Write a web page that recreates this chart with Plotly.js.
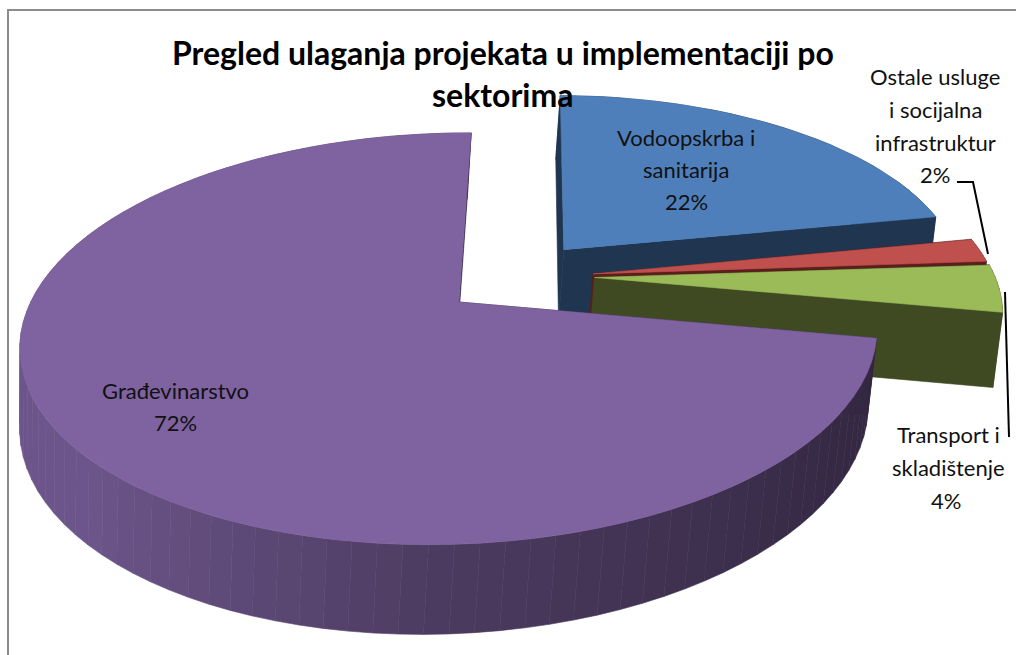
<!DOCTYPE html>
<html><head><meta charset="utf-8">
<script src="https://cdn.plot.ly/plotly-3.0.1.min.js"></script>
<style>html,body{margin:0;padding:0;background:#fff}#c{width:1016px;height:655px}</style>
</head><body><div id="c"></div>
<script>
const categories = ["Vodoopskrba i sanitarija","Ostale usluge i socijalna infrastruktur","Transport i skladištenje","Građevinarstvo"];
const values = [22,2,4,72];
const topColors = ["#4f7fbb","#c0504d","#9bbb59","#7f62a0"];
const sideColors = ["#1f3550","#5a1e1c","#3f4a22","#332640"];
// explosion of each slice in the pie's own plane
const pullX = [0.26,0.327,0.33,0];
const pullY = [0.268,0.134,0.115,0];
const titleLines = ["Pregled ulaganja projekata u implementaciji po","sektorima"];
const labelLines = [
 {t:"Vodoopskrba i",x:686,y:137},{t:"sanitarija",x:686,y:169},{t:"22%",x:686,y:201},
 {t:"Ostale usluge",x:935,y:76},{t:"i socijalna",x:935,y:109},{t:"infrastruktur",x:935,y:142},{t:"2%",x:935,y:174},
 {t:"Transport i",x:948,y:434},{t:"skladištenje",x:948,y:467},{t:"4%",x:946,y:500},
 {t:"Građevinarstvo",x:175,y:390},{t:"72%",x:175,y:422}
];
// projection of the pie disc on the page
const H = {a:432,b:85,c:459,d:-145.4,e:302,g:0.178,h:0.023,k:80,m:0.01};
const rot = 1.5*Math.PI/180;
function P(X,Y,z){
  const den = 1+H.g*Y+H.h*X+H.m*z;
  return [(H.a*X+H.b*Y+H.c)/den,(H.d*Y+H.e+H.k*z)/den];
}
function arcPts(i,t0,t1,z,n){
  const o=[];
  for(let j=0;j<=n;j++){
    const t=t0+(t1-t0)*j/n;
    o.push(P(pullX[i]+Math.sin(t+rot),pullY[i]+Math.cos(t+rot),z));
  }
  return o;
}
const traces=[];
function poly(pts,color){
  const x=pts.map(p=>p[0]),y=pts.map(p=>p[1]);
  x.push(x[0]);y.push(y[0]);
  traces.push({type:"scatter",mode:"lines",x:x,y:y,fill:"toself",fillcolor:color,
    line:{color:color,width:0.6},hoverinfo:"skip",showlegend:false});
}
function lerp(a,b,t){return a.map((v,i)=>v+(b[i]-v)*t);}
function sideShade(X){
  const dark=[50,38,64],mid=[75,58,95],light=[108,85,138];
  const c = X>0 ? lerp(mid,dark,Math.min(1,X)) : lerp(mid,light,Math.min(1,-X/0.75));
  return "rgb("+c.map(Math.round).join(",")+")";
}
const total=values.reduce((a,b)=>a+b,0);
let ang=0;
values.forEach((v,i)=>{
  const t0=ang,t1=ang+v/total*2*Math.PI; ang=t1;
  const ax=[pullX[i],pullY[i]];
  const A0=P(ax[0],ax[1],0),A1=P(ax[0],ax[1],1);
  const a=arcPts(i,t0,t1,0,1),b=arcPts(i,t0,t1,1,1);
  // start cut face
  poly([A0,a[0],b[0],A1],sideColors[i]);
  // rim
  const n = i===3?90:8;
  for(let j=0;j<n;j++){
    const s0=t0+(t1-t0)*j/n,s1=t0+(t1-t0)*(j+1)/n;
    const u=arcPts(i,s0,s1,0,3),w=arcPts(i,s0,s1,1,3).reverse();
    poly(u.concat(w), i===3?sideShade(Math.sin((s0+s1)/2+rot)):sideColors[i]);
  }
  // end cut face
  poly([A0,a[1],b[1],A1],sideColors[i]);
  // top face
  poly([A0].concat(arcPts(i,t0,t1,0,80)),topColors[i]);
});
const anns=[];
titleLines.forEach((t,i)=>anns.push({text:"<b>"+t+"</b>",x:503,y:[52,94][i],xref:"x",yref:"y",showarrow:false,
  xanchor:"center",yanchor:"middle",font:{family:"Lato",size:32,color:"#000"}}));
labelLines.forEach(l=>anns.push({text:l.t,x:l.x,y:l.y,xref:"x",yref:"y",showarrow:false,
  xanchor:"center",yanchor:"middle",font:{family:"Lato",size:22,color:"#111"}}));
const shapes=[
 {type:"path",path:"M8,655 L8,10 L1016,10",line:{color:"#8c8c8c",width:2},layer:"above"},
 {type:"path",path:"M957,182 L973,182 L988,254",line:{color:"#000",width:2},layer:"above"},
 {type:"path",path:"M1005,292 L1009,437",line:{color:"#000",width:2},layer:"above"}
];
Plotly.newPlot("c",traces,{
  width:1016,height:655,margin:{l:0,r:0,t:0,b:0},paper_bgcolor:"#fff",plot_bgcolor:"#fff",showlegend:false,
  xaxis:{range:[0,1016],visible:false,fixedrange:true},
  yaxis:{range:[655,0],visible:false,fixedrange:true},
  annotations:anns,shapes:shapes
},{displayModeBar:false,staticPlot:true});
</script></body></html>
